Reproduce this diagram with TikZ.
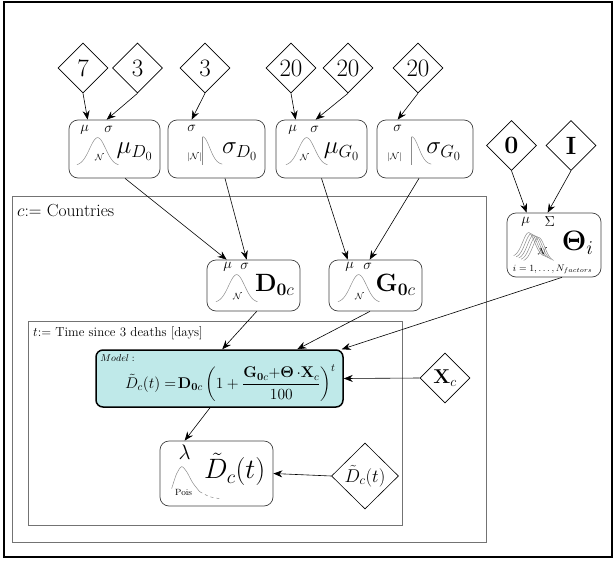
\RequirePackage{fix-cm}
\documentclass[tikz,border=0pt]{standalone}
\usepackage{amsmath}
\usetikzlibrary{shapes.geometric,arrows.meta,calc}
\definecolor{modelfill}{RGB}{191,233,233}
\begin{document}
\begin{tikzpicture}[x=1pt,y=-1pt,
  diam/.style={diamond, draw, line width=0.6pt, minimum width=50pt, minimum height=50pt, inner sep=0pt, font=\fontsize{25}{25}\selectfont},
  pbox/.style={draw=black!75, rounded corners=9pt, line width=0.7pt, inner sep=0pt},
  modelbox/.style={draw=black, fill=modelfill, rounded corners=7pt, line width=1.5pt, inner sep=0pt, minimum width=247pt, minimum height=57pt},
  plate/.style={draw=black!55, line width=1pt},
  sm/.style={inner sep=0pt, font=\fontsize{14.5}{14.5}\selectfont},
  tiny/.style={inner sep=0pt, font=\fontsize{9}{9}\selectfont},
  big/.style={inner sep=0pt, font=\fontsize{25}{25}\selectfont},
  curve/.style={draw=black!45, line width=0.5pt},
  arr/.style={-{Stealth[length=9pt,width=7pt,inset=3pt]}, line width=0.6pt},
  pics/gauss/.style={code={\draw[curve] plot[domain=-2.6:2.6,samples=40] ({8*\x},{-28*exp(-0.5*(\x)*(\x))});}},
  pics/halfn/.style={code={\draw[curve] (0,0) -- (0,-28); \draw[curve] plot[domain=0:2.8,samples=30] ({7*\x},{-28*exp(-0.5*(\x)*(\x))});}},
  pics/mgauss/.style={code={\foreach \k in {0,...,4} {\draw[curve] plot[domain=-2.5:2.5,samples=30] ({2.5*\k+6*\x},{1.2*\k-24*exp(-0.5*(\x)*(\x))});}}}
]
\useasboundingbox (0,0) rectangle (616,560);
% frames
\draw[line width=1.5pt] (4,2) rectangle (612,557);
\draw[plate] (12,196) rectangle (486,542);
\draw[plate] (28,321) rectangle (402,525);
\node[anchor=west, inner sep=0pt, font=\fontsize{17.5}{17.5}\selectfont] (lc) at (17,211) {$c$:= Countries};
\node[anchor=west, inner sep=0pt, font=\fontsize{13}{13}\selectfont] (lt) at (33,333) {$t$:= Time since 3 deaths [days]};

% diamonds
\node[diam] (n7) at (83,68) {$7$};
\node[diam] (n3a) at (137.5,68) {$3$};
\node[diam] (n3b) at (205,68) {$3$};
\node[diam] (n20a) at (291,68) {$20$};
\node[diam] (n20b) at (348,68) {$20$};
\node[diam] (n20c) at (418,68) {$20$};
\node[diam] (n0) at (511.5,145.5) {$\mathbf{0}$};
\node[diam] (nI) at (571,145.5) {$\mathbf{I}$};
\node[diam, font=\fontsize{20}{20}\selectfont] (nX) at (445,378) {$\mathbf{X}_c$};
\node[diam, minimum width=67pt, minimum height=66pt, font=\fontsize{18.5}{18.5}\selectfont] (nDobs) at (365,476) {$\tilde{D}_c(t)$};

% boxes
\node[pbox, minimum width=91pt, minimum height=58pt] (muD) at (114.5,149) {};
\node[pbox, minimum width=97pt, minimum height=58pt] (sgD) at (216.5,149) {};
\node[pbox, minimum width=91pt, minimum height=58pt] (muG) at (321.5,149) {};
\node[pbox, minimum width=96pt, minimum height=58pt] (sgG) at (425,149) {};
\node[pbox, minimum width=93pt, minimum height=51pt] (D0c) at (253.5,285.5) {};
\node[pbox, minimum width=93pt, minimum height=51pt] (G0c) at (375.5,285.5) {};
\node[pbox, minimum width=94pt, minimum height=64pt] (Th) at (554,245) {};
\node[modelbox] (model) at (219.5,378.5) {};
\node[pbox, minimum width=113pt, minimum height=65pt] (Dc) at (216.5,473.5) {};

% mu_D0
\node[sm] (muD-m) at ($(muD.north west)+(16,10)$) {$\mu$};
\node[sm] (muD-s) at ($(muD.north west)+(40,10)$) {$\sigma$};
\pic at ($(muD.north west)+(29,46)$) {gauss};
\node[tiny] (muD-n) at ($(muD.north west)+(31,38)$) {$\mathcal{N}$};
\node[big] (muD-l) at ($(muD.north west)+(66,32)$) {$\mu_{D_0}$};
% sigma_D0
\node[sm] (sgD-s) at ($(sgD.north west)+(24,9)$) {$\sigma$};
\pic at ($(sgD.north west)+(35,45)$) {halfn};
\node[tiny] (sgD-n) at ($(sgD.north west)+(27,38)$) {$|\mathcal{N}|$};
\node[big] (sgD-l) at ($(sgD.north west)+(72,32)$) {$\sigma_{D_0}$};
% mu_G0
\node[sm] (muG-m) at ($(muG.north west)+(17,10)$) {$\mu$};
\node[sm] (muG-s) at ($(muG.north west)+(39,10)$) {$\sigma$};
\pic at ($(muG.north west)+(31,46)$) {gauss};
\node[tiny] (muG-n) at ($(muG.north west)+(29,38)$) {$\mathcal{N}$};
\node[big] (muG-l) at ($(muG.north west)+(66,32)$) {$\mu_{G_0}$};
% sigma_G0
\node[sm] (sgG-s) at ($(sgG.north west)+(21,9)$) {$\sigma$};
\pic at ($(sgG.north west)+(35,45)$) {halfn};
\node[tiny] (sgG-n) at ($(sgG.north west)+(18,38)$) {$|\mathcal{N}|$};
\node[big] (sgG-l) at ($(sgG.north west)+(67,32)$) {$\sigma_{G_0}$};
% D0c
\node[sm] (D0c-m) at ($(D0c.north west)+(21,7)$) {$\mu$};
\node[sm] (D0c-s) at ($(D0c.north west)+(38,7)$) {$\sigma$};
\pic at ($(D0c.north west)+(30,43)$) {gauss};
\node[tiny] (D0c-n) at ($(D0c.north west)+(31,37)$) {$\mathcal{N}$};
\node[big] (D0c-l) at ($(D0c.north west)+(68,25)$) {$\mathbf{D}_{\mathbf{0}c}$};
% G0c
\node[sm] (G0c-m) at ($(G0c.north west)+(21,7)$) {$\mu$};
\node[sm] (G0c-s) at ($(G0c.north west)+(39,7)$) {$\sigma$};
\pic at ($(G0c.north west)+(30,43)$) {gauss};
\node[tiny] (G0c-n) at ($(G0c.north west)+(31,37)$) {$\mathcal{N}$};
\node[big] (G0c-l) at ($(G0c.north west)+(67,25)$) {$\mathbf{G}_{\mathbf{0}c}$};
% Theta
\node[sm] (Th-m) at ($(Th.north west)+(19,9)$) {$\mu$};
\node[sm] (Th-s) at ($(Th.north west)+(43,9)$) {$\Sigma$};
\pic at ($(Th.north west)+(22,44)$) {mgauss};
\node[tiny] (Th-n) at ($(Th.north west)+(36,39)$) {$\mathcal{N}$};
\node[big, font=\fontsize{28}{28}\selectfont] (Th-l) at ($(Th.north west)+(71,30)$) {$\mathbf{\Theta}_i$};
\node[inner sep=0pt, font=\fontsize{9.5}{9.5}\selectfont] (Th-i) at ($(Th.north west)+(46,57)$) {$i=1,\ldots,N_{factors}$};
% model
\node[anchor=west, inner sep=0pt, font=\fontsize{10}{10}\selectfont] (model-t) at ($(model.north west)+(5,9)$) {$Model:$};
\node[inner sep=0pt, font=\fontsize{15.5}{15.5}\selectfont] (model-e) at ($(model.north west)+(135,34)$) {$\tilde{D}_c(t)=\!\mathbf{D}_{\mathbf{0}c}\left(1+\dfrac{\mathbf{G}_{\mathbf{0}c}{+}\mathbf{\Theta}\,{\cdot}\mathbf{X}_c}{100}\right)^t$};
% Dc
\node[inner sep=0pt, font=\fontsize{21}{21}\selectfont] (Dc-l) at ($(Dc.north west)+(25,12)$) {$\lambda$};
\draw[curve] plot[smooth] coordinates {($(Dc.north west)+(12,48)$) ($(Dc.north west)+(17,33)$) ($(Dc.north west)+(22,26)$) ($(Dc.north west)+(27,31)$) ($(Dc.north west)+(33,42)$) ($(Dc.north west)+(40,51)$)};
\draw[curve, dashed] plot[smooth] coordinates {($(Dc.north west)+(40,51)$) ($(Dc.north west)+(50,56)$) ($(Dc.north west)+(60,58)$)};
\node[tiny] (Dc-p) at ($(Dc.north west)+(24,52)$) {Pois};
\node[big, font=\fontsize{28}{28}\selectfont] (Dc-m) at ($(Dc.north west)+(75,29)$) {$\tilde{D}_c(t)$};

% arrows
\draw[arr] (n7.south) -- ($(muD.north west)+(19,0)$);
\draw[arr] (n3a.south) -- ($(muD.north west)+(38,0)$);
\draw[arr] (n3b.south) -- ($(sgD.north west)+(24,0)$);
\draw[arr] (n20a.south) -- ($(muG.north west)+(20,0)$);
\draw[arr] (n20b.south) -- ($(muG.north west)+(40,0)$);
\draw[arr] (n20c.south) -- ($(sgG.north west)+(21,0)$);
\draw[arr] (n0.south) -- ($(Th.north west)+(20,0)$);
\draw[arr] (nI.south) -- ($(Th.north west)+(41,0)$);
\draw[arr] ([xshift=10.5pt]muD.south) -- ($(D0c.north west)+(20,0)$);
\draw[arr] ([xshift=8.5pt]sgD.south) -- ($(D0c.north west)+(40,0)$);
\draw[arr] (muG.south) -- ($(G0c.north west)+(19,0)$);
\draw[arr] ([xshift=-6pt]sgG.south) -- ($(G0c.north west)+(41,0)$);
\draw[arr] ([xshift=3.2pt]D0c.south) -- ($(model.north west)+(127,0)$);
\draw[arr] ([xshift=-5.5pt]G0c.south) -- ($(model.north west)+(202,0)$);
\draw[arr] ([xshift=8pt]Th.south) -- ($(model.north east)+(-2,0)$);
\draw[arr] (nX.west) -- (model.east);
\draw[arr] ([xshift=-9.5pt]model.south) -- ($(Dc.north west)+(25,0)$);
\draw[arr] (nDobs.west) -- (Dc.east);
\end{tikzpicture}
\end{document}
